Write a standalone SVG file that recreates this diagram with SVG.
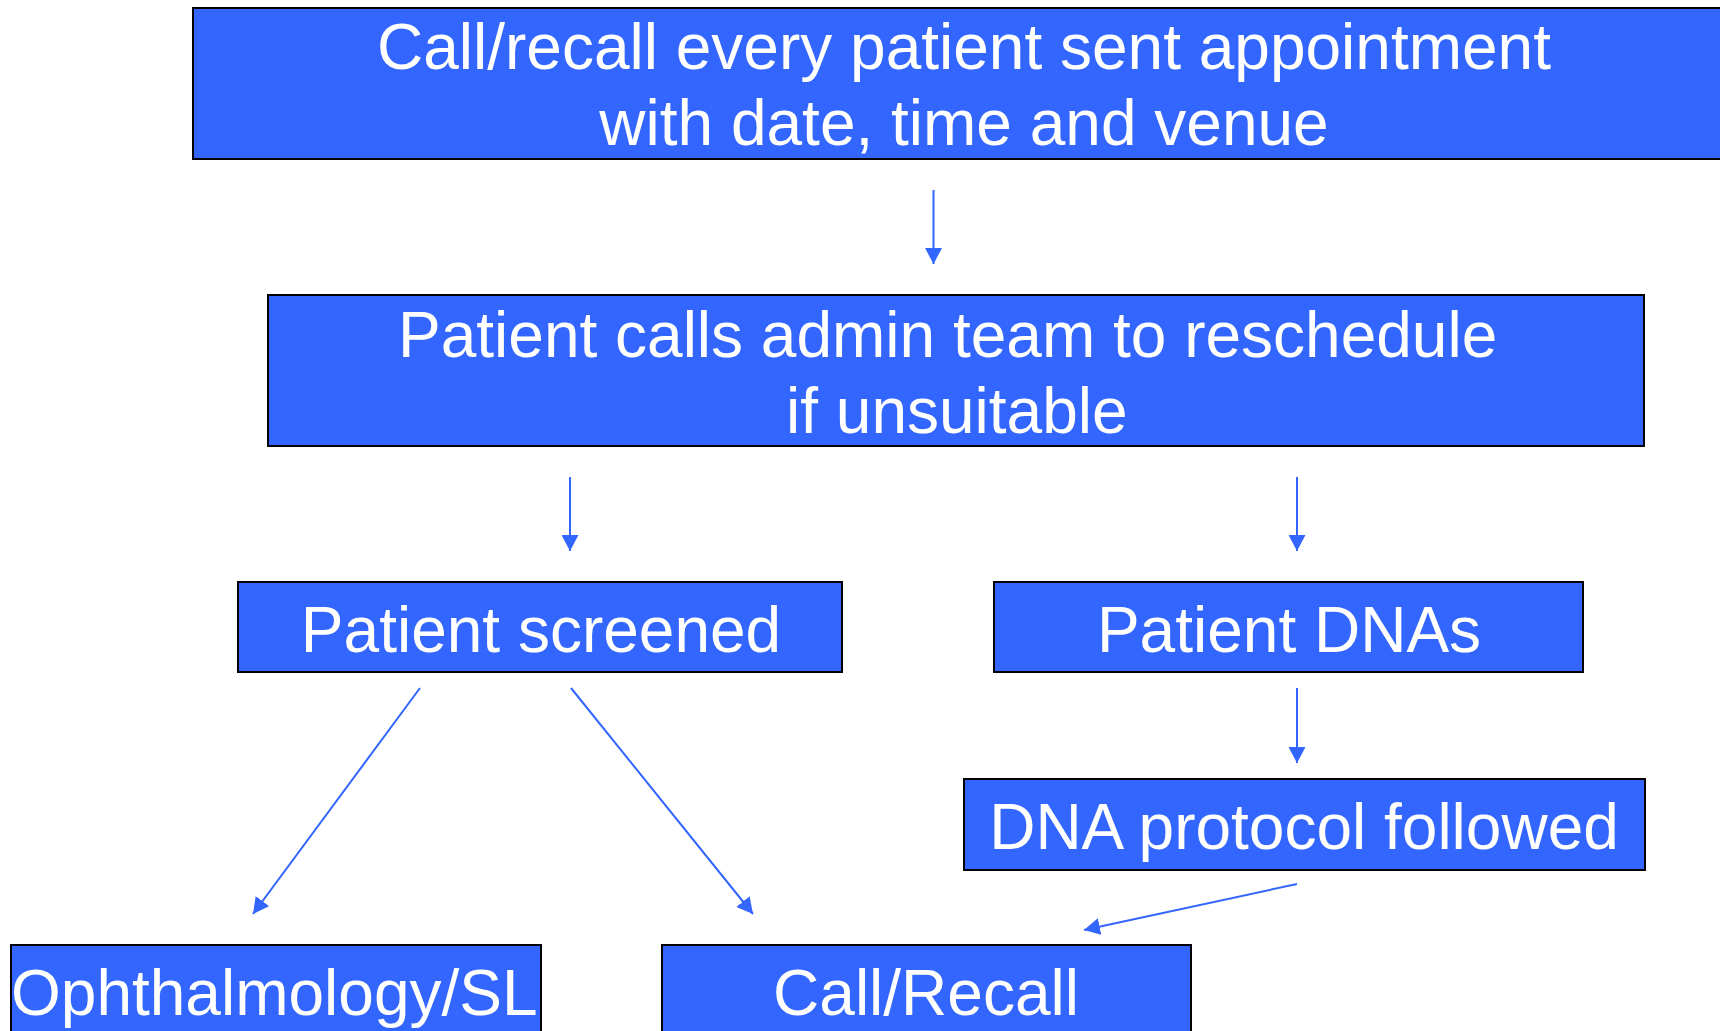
<svg xmlns="http://www.w3.org/2000/svg" width="1720" height="1031" viewBox="0 0 1720 1031">
  <style>
    .box { fill: #3366ff; stroke: #000000; stroke-width: 2; }
    .lbl { font-family: "Liberation Sans", Arial, sans-serif; font-size: 64px; fill: #ffffff; }
    .mid { text-anchor: middle; }
    .link { stroke: #3366ff; stroke-width: 2; fill: none; marker-end: url(#arrow); }
  </style>
  <defs>
    <marker id="arrow" viewBox="0 0 16 17" refX="16" refY="8.5" markerWidth="16" markerHeight="17" markerUnits="userSpaceOnUse" orient="auto">
      <path d="M0,0 L16,8.5 L0,17 Z" fill="#3366ff"/>
    </marker>
  </defs>
  <rect x="0" y="0" width="1720" height="1031" fill="#ffffff"/>

  <g id="call-recall-sent">
    <rect class="box" x="193" y="8" width="1540" height="151"/>
    <text class="lbl mid" x="964" y="69">Call/recall every patient sent appointment</text>
    <text class="lbl mid" x="964" y="145">with date, time and venue</text>
  </g>

  <g id="patient-calls-admin">
    <rect class="box" x="268" y="295" width="1376" height="151"/>
    <text class="lbl" x="398" y="357">Patient calls admin team to reschedule</text>
    <text class="lbl" x="786" y="433">if unsuitable</text>
  </g>

  <g id="patient-screened">
    <rect class="box" x="238" y="582" width="604" height="90"/>
    <text class="lbl mid" x="541" y="652">Patient screened</text>
  </g>

  <g id="patient-dnas">
    <rect class="box" x="994" y="582" width="589" height="90"/>
    <text class="lbl mid" x="1289" y="652">Patient DNAs</text>
  </g>

  <g id="dna-protocol">
    <rect class="box" x="964" y="779" width="681" height="91"/>
    <text class="lbl mid" x="1304" y="849">DNA protocol followed</text>
  </g>

  <g id="ophthalmology">
    <rect class="box" x="11" y="945" width="530" height="100"/>
    <text class="lbl" x="11" y="1015">Ophthalmology/SL</text>
  </g>

  <g id="call-recall">
    <rect class="box" x="662" y="945" width="529" height="100"/>
    <text class="lbl mid" x="926" y="1015">Call/Recall</text>
  </g>

  <g id="connectors">
    <line class="link" x1="933.5" y1="190" x2="933.5" y2="264"/>
    <line class="link" x1="570" y1="477" x2="570" y2="551"/>
    <line class="link" x1="1297" y1="477" x2="1297" y2="551"/>
    <line class="link" x1="1297" y1="688" x2="1297" y2="763"/>
    <line class="link" x1="420" y1="688" x2="253" y2="914"/>
    <line class="link" x1="571" y1="688" x2="753" y2="914"/>
    <line class="link" x1="1297" y1="884" x2="1084" y2="930"/>
  </g>
</svg>
